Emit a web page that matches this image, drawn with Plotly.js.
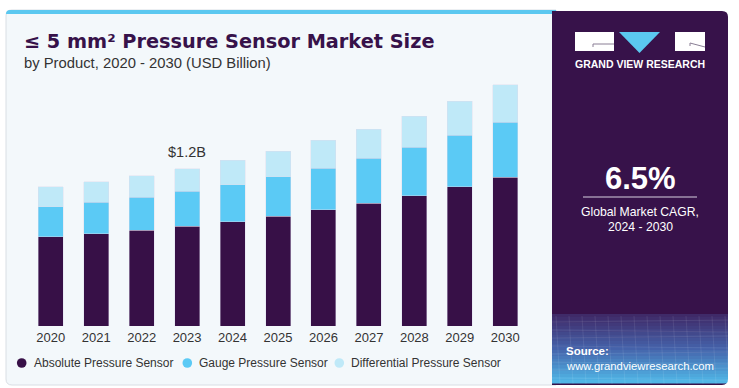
<!DOCTYPE html>
<html>
<head>
<meta charset="utf-8">
<script src="https://cdn.plot.ly/plotly-3.0.1.min.js"></script>
<style>html,body{margin:0;padding:0;background:#fff;}#chart{width:739px;height:388px;}</style>
</head>
<body>
<div id="chart"></div>
<script>
// ---- data ----
const years = ['2020','2021','2022','2023','2024','2025','2026','2027','2028','2029','2030'];
const absolute = [0.681,0.704,0.730,0.763,0.796,0.839,0.887,0.938,0.994,1.063,1.134];
const gauge = [0.229,0.240,0.254,0.265,0.280,0.298,0.318,0.341,0.369,0.392,0.420];
const differential = [0.153,0.157,0.163,0.172,0.188,0.198,0.211,0.224,0.239,0.259,0.285];
const seriesNames = ['Absolute Pressure Sensor','Gauge Pressure Sensor','Differential Pressure Sensor'];
const labelYear = '2023';
const cagr = '6.5%';
const cagrLabel = ['Global Market CAGR,','2024 - 2030'];

// ---- layout geometry (pixels) ----
const W = 739, H = 388;
const M = {l:28, r:211, t:80, b:62};
const pw = W - M.l - M.r, ph = H - M.t - M.b;
const X = p => (p - M.l) / pw;
const Y = p => (H - M.b - p) / ph;
const FONT = '"Liberation Sans", Arial, sans-serif';
const colors = ['#371047', '#5bcaf5', '#bfe9f8'];

function rrect(x0, y0, x1, y1, r, tl, tr, br, bl) {
  const P = (x, y) => X(x) + ',' + Y(y);
  let d = 'M' + P(x0 + (tl ? r : 0), y0);
  d += ' L' + P(x1 - (tr ? r : 0), y0);
  if (tr) d += ' Q' + P(x1, y0) + ' ' + P(x1, y0 + r);
  d += ' L' + P(x1, y1 - (br ? r : 0));
  if (br) d += ' Q' + P(x1, y1) + ' ' + P(x1 - r, y1);
  d += ' L' + P(x0 + (bl ? r : 0), y1);
  if (bl) d += ' Q' + P(x0, y1) + ' ' + P(x0, y1 - r);
  d += ' L' + P(x0, y0 + (tl ? r : 0));
  if (tl) d += ' Q' + P(x0, y0) + ' ' + P(x0 + r, y0);
  return d + ' Z';
}

const traces = [absolute, gauge, differential].map((vals, i) => ({
  type: 'bar', x: years, y: vals, name: seriesNames[i],
  marker: {color: colors[i], line: {color: 'rgba(220,220,235,0.7)', width: 0.6}},
  showlegend: false, hoverinfo: 'x+y+name'
}));

const shapes = [];
// card background
shapes.push({type:'path', xref:'paper', yref:'paper', layer:'below',
  path: rrect(6, 10, 556, 385, 6, true, false, false, true),
  fillcolor:'#f3f8fb', line:{color:'#d9dee4', width:1}});
// top blue strip
shapes.push({type:'path', xref:'paper', yref:'paper', layer:'below',
  path: rrect(6, 10, 556, 14, 4, true, false, false, false),
  fillcolor:'#5bc8f0', line:{width:0}});
// right panel
shapes.push({type:'path', xref:'paper', yref:'paper', layer:'below',
  path: rrect(552, 11, 728, 385, 6, false, true, true, false),
  fillcolor:'#37124a', line:{width:0}});
// gradient at bottom of the panel (strips)
const g0 = [0x3f,0x2a,0x68], g1 = [0x45,0x62,0xaa], g2 = [0x50,0xb6,0xe6];
const gTop = 314, gBot = 383, steps = 23;
for (let s = 0; s < steps; s++) {
  const t = s / (steps - 1);
  let c;
  if (t < 0.5) { const u = t / 0.5; c = g0.map((v, k) => Math.round(v + (g1[k] - v) * u)); }
  else { const u = (t - 0.5) / 0.5; c = g1.map((v, k) => Math.round(v + (g2[k] - v) * u)); }
  const y0 = gTop + (gBot - gTop) * s / steps, y1 = gTop + (gBot - gTop) * (s + 1) / steps + 0.5;
  shapes.push({type:'rect', xref:'paper', yref:'paper', layer:'below',
    x0: X(552), x1: X(728), y0: Y(y0), y1: Y(y1),
    fillcolor: 'rgb(' + c.join(',') + ')', line:{width:0}});
}
// bottom rounded corner cover
shapes.push({type:'path', xref:'paper', yref:'paper', layer:'below',
  path: 'M' + X(728) + ',' + Y(379) + ' Q' + X(728) + ',' + Y(385) + ' ' + X(722) + ',' + Y(385) + ' L' + X(729) + ',' + Y(386) + ' Z',
  fillcolor:'#ffffff', line:{width:0}});
// faint wireframe lines in gradient
for (let k = 0; k < 8; k++) {
  const yy = 322 + k * 8;
  shapes.push({type:'line', xref:'paper', yref:'paper', layer:'below',
    x0: X(552), x1: X(728), y0: Y(yy), y1: Y(yy + (k % 2 ? 2 : -2)),
    line:{color:'rgba(255,255,255,0.12)', width:0.7}});
}
for (let k = 0; k < 14; k++) {
  const xx = 556 + k * 13;
  shapes.push({type:'line', xref:'paper', yref:'paper', layer:'below',
    x0: X(xx), x1: X(xx + 4), y0: Y(316), y1: Y(384),
    line:{color:'rgba(255,255,255,0.12)', width:0.7}});
}
// logo
shapes.push({type:'rect', xref:'paper', yref:'paper', x0:X(575), x1:X(614), y0:Y(32), y1:Y(51), fillcolor:'#ffffff', line:{width:0}});
shapes.push({type:'path', xref:'paper', yref:'paper',
  path:'M' + X(614) + ',' + Y(44) + ' L' + X(593) + ',' + Y(44) + ' L' + X(593) + ',' + Y(47),
  line:{color:'#8a7f95', width:1}});
shapes.push({type:'path', xref:'paper', yref:'paper',
  path:'M' + X(619) + ',' + Y(32) + ' L' + X(660) + ',' + Y(32) + ' L' + X(639.5) + ',' + Y(53) + ' Z',
  fillcolor:'#5bc8f0', line:{width:0}});
shapes.push({type:'rect', xref:'paper', yref:'paper', x0:X(675), x1:X(705), y0:Y(32), y1:Y(51), fillcolor:'#ffffff', line:{width:0}});
shapes.push({type:'path', xref:'paper', yref:'paper',
  path:'M' + X(690) + ',' + Y(43) + ' L' + X(705) + ',' + Y(47) + ' M' + X(690) + ',' + Y(43) + ' L' + X(690) + ',' + Y(46),
  line:{color:'#8a7f95', width:1}});
// CAGR divider
shapes.push({type:'line', xref:'paper', yref:'paper', x0:X(583), x1:X(697), y0:Y(197), y1:Y(197),
  line:{color:'#d8d0e0', width:1}});
// legend circles
const legendCircleX = [21.7, 187.3, 339.3];
const legendTextX = [32, 196.5, 349];
const legendY = 363;
legendCircleX.forEach((cx, i) => {
  shapes.push({type:'circle', xref:'paper', yref:'paper',
    x0:X(cx - 4.8), x1:X(cx + 4.8), y0:Y(legendY - 4.8), y1:Y(legendY + 4.8),
    fillcolor: colors[i], line:{width:0}});
});

const ann = [];
const txt = (x, y, text, size, color, anchor, extra) => Object.assign({
  xref:'paper', yref:'paper', x:X(x), y:Y(y), text:text, showarrow:false,
  xanchor:anchor || 'left', yanchor:'middle', font:{family:FONT, size:size, color:color}
}, extra || {});
ann.push(txt(22, 42, '<b>≤ 5 mm² Pressure Sensor Market Size</b>', 19.3, '#37124a', 'left',
  {font:{family:'"DejaVu Sans", sans-serif', size:19.3, color:'#37124a'}}));
ann.push(txt(22, 63, 'by Product, 2020 - 2030 (USD Billion)', 14.8, '#333333'));
seriesNames.forEach((n, i) => ann.push(txt(legendTextX[i], legendY, n, 12, '#333333')));
ann.push(txt(640, 64, '<b>GRAND VIEW RESEARCH</b>', 10.5, '#ffffff', 'center'));
ann.push(txt(640, 178, '<b>' + cagr + '</b>', 31, '#ffffff', 'center'));
ann.push(txt(640, 212, cagrLabel[0], 12.2, '#ffffff', 'center'));
ann.push(txt(640, 227, cagrLabel[1], 12.2, '#ffffff', 'center'));
ann.push(txt(564, 351, '<b>Source:</b>', 11.5, '#ffffff'));
ann.push(txt(564, 366, 'www.grandviewresearch.com', 11.3, '#ffffff'));
// total label
const li = years.indexOf(labelYear);
const total = absolute[li] + gauge[li] + differential[li];
ann.push({xref:'x', yref:'y', x:li, y:total, text:'$' + total.toFixed(1) + 'B',
  showarrow:false, yanchor:'bottom', yshift:7, font:{family:FONT, size:14.5, color:'#333333'}});

const layout = {
  width: W, height: H, margin: M,
  paper_bgcolor:'#ffffff', plot_bgcolor:'rgba(0,0,0,0)',
  barmode:'stack', bargap:0.45,
  xaxis:{type:'category', range:[-0.5, 10.5], showgrid:false, zeroline:false, showline:false,
    ticks:'', ticklabelstandoff:2, tickfont:{family:FONT, size:13, color:'#333333'}, fixedrange:true},
  yaxis:{range:[0, 1.877], visible:false, showgrid:false, zeroline:false, fixedrange:true},
  shapes: shapes, annotations: ann, showlegend:false,
  font:{family:FONT}
};
Plotly.newPlot('chart', traces, layout, {displayModeBar:false, staticPlot:true});
</script>
</body>
</html>
